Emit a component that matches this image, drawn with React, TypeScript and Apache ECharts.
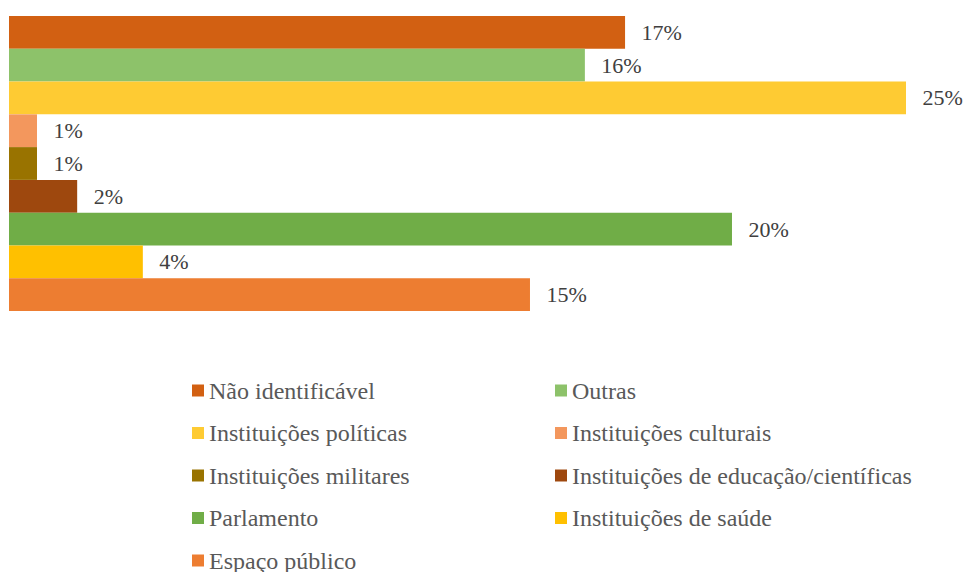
import React, { useEffect, useRef } from "react";
import * as echarts from "echarts";

const seriesNames = [
  "Não identificável",
  "Outras",
  "Instituições políticas",
  "Instituições culturais",
  "Instituições militares",
  "Instituições de educação/científicas",
  "Parlamento",
  "Instituições de saúde",
  "Espaço público",
];
const seriesValues = [17.17, 16.05, 25.0, 0.78, 0.78, 1.9, 20.15, 3.73, 14.52];
const seriesColors = [
  "#D26012",
  "#8DC26A",
  "#FECB33",
  "#F3975D",
  "#997300",
  "#9E480E",
  "#70AD47",
  "#FFC000",
  "#ED7D31",
];
const categories = [""];
const leftLegend = [0, 2, 4, 6, 8].map((i) => seriesNames[i]);
const rightLegend = [1, 3, 5, 7].map((i) => seriesNames[i]);

const FONT = "Liberation Serif";

export default function App() {
  const ref = useRef<HTMLDivElement>(null);
  useEffect(() => {
    if (!ref.current) return;
    const chart = echarts.init(ref.current, undefined, { renderer: "svg" });
    const legendCommon = {
      orient: "vertical" as const,
      top: 378.5,
      height: 200,
      padding: 0,
      itemWidth: 12,
      itemHeight: 12,
      itemGap: 18.5,
      icon: "rect",
      textStyle: { fontFamily: FONT, fontSize: 24, lineHeight: 24, color: "#595959" },
      selectedMode: false,
    };
    chart.setOption({
      animation: false,
      textStyle: { fontFamily: FONT },
      grid: { left: 9, right: 60, top: 16, height: 295, containLabel: false },
      xAxis: { type: "value", min: 0, max: 25, show: false },
      yAxis: { type: "category", data: categories, show: false },
      legend: [
        { ...legendCommon, left: 192, data: leftLegend },
        { ...legendCommon, left: 555, data: rightLegend },
      ],
      series: seriesNames.map((name, i) => ({
        name,
        type: "bar",
        data: [seriesValues[i]],
        barGap: "0%",
        barCategoryGap: "0%",
        itemStyle: { color: seriesColors[i] },
        label: {
          show: true,
          position: "right",
          distance: 16.5,
          fontFamily: FONT,
          fontSize: 22,
          color: "#404040",
          formatter: (p: any) => Math.round(p.value) + "%",
        },
      })),
    });
    return () => chart.dispose();
  }, []);
  return <div ref={ref} style={{ width: 966, height: 572, position: "absolute", left: 0, top: 0 }} />;
}
